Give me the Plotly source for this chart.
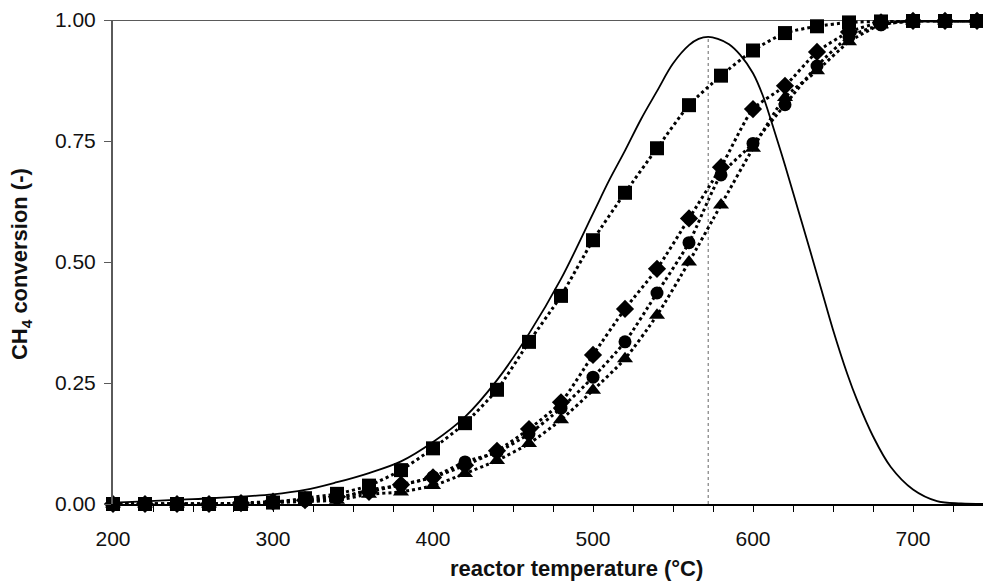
import plotly.graph_objects as go

temperature = [200, 220, 240, 260, 280, 300, 320, 340, 360, 380, 400, 420, 440, 460,
               480, 500, 520, 540, 560, 580, 600, 620, 640, 660, 680, 700, 720, 740]

conv_square = [0.0, 0.0, 0.0, 0.0, 0.0, 0.003, 0.012, 0.021, 0.038, 0.07, 0.115, 0.167, 0.236, 0.335,
               0.43, 0.545, 0.643, 0.735, 0.824, 0.885, 0.937, 0.973, 0.987, 0.995, 0.997, 0.998, 0.998, 0.998]
conv_diamond = [0.0, 0.0, 0.0, 0.0, 0.002, 0.005, 0.008, 0.015, 0.025, 0.04, 0.055, 0.08, 0.11, 0.155,
                0.21, 0.308, 0.403, 0.486, 0.59, 0.696, 0.816, 0.864, 0.934, 0.975, 0.995, 0.998, 0.998, 0.998]
conv_circle = [0.0, 0.0, 0.0, 0.0, 0.0, 0.004, 0.007, 0.012, 0.029, 0.039, 0.056, 0.087, 0.107, 0.145,
               0.198, 0.262, 0.335, 0.436, 0.54, 0.68, 0.745, 0.825, 0.905, 0.965, 0.99, 0.998, 0.998, 0.998]
conv_triangle = [0.0, 0.0, 0.0, 0.0, 0.0, 0.003, 0.005, 0.008, 0.02, 0.025, 0.038, 0.063, 0.09, 0.125,
                 0.174, 0.235, 0.30, 0.39, 0.50, 0.618, 0.735, 0.84, 0.895, 0.955, 0.99, 0.998, 0.998, 0.998]

bell_t = [200, 250, 300, 320, 340, 360, 380, 400, 420, 440, 460, 480, 500, 510, 520, 530, 540, 550,
          560, 566, 572, 578, 585, 592, 600, 606, 612, 620, 628, 636, 643, 650, 659, 665, 675, 686,
          700, 715, 730, 745]
bell_v = [0.003, 0.01, 0.02, 0.029, 0.045, 0.064, 0.088, 0.128, 0.18, 0.256, 0.352, 0.465, 0.60, 0.668,
          0.73, 0.795, 0.853, 0.91, 0.948, 0.961, 0.965, 0.961, 0.95, 0.928, 0.89, 0.845, 0.785, 0.70,
          0.61, 0.52, 0.44, 0.36, 0.268, 0.215, 0.14, 0.077, 0.03, 0.006, 0.001, 0.0]

x_ticks = [200, 300, 400, 500, 600, 700]
y_ticks = [0.0, 0.25, 0.5, 0.75, 1.0]

x_title = "reactor temperature (°C)"
y_title = "CH<sub>4</sub> conversion (-)"

fig = go.Figure()

peak_i = bell_v.index(max(bell_v))
fig.add_trace(go.Scatter(x=[bell_t[peak_i], bell_t[peak_i]], y=[0, bell_v[peak_i]], mode="lines",
                         line=dict(color="#666666", width=1, dash="dot"), showlegend=False))
fig.add_trace(go.Scatter(x=bell_t, y=bell_v, mode="lines",
                         line=dict(color="black", width=1.8, shape="spline", smoothing=1.0),
                         showlegend=False, cliponaxis=False))

series = [
    (conv_triangle, "triangle-up", 14),
    (conv_circle, "circle", 13),
    (conv_diamond, "diamond", 14),
    (conv_square, "square", 14),
]
for vals, sym, size in series:
    fig.add_trace(go.Scatter(x=temperature, y=vals, mode="lines+markers",
                             line=dict(color="black", width=3, dash="dot", shape="spline", smoothing=0.6),
                             marker=dict(symbol=sym, size=size, color="black"),
                             showlegend=False, cliponaxis=False))

# top frame line at 1.00
fig.add_shape(type="line", xref="paper", yref="y", x0=0, x1=1, y0=1, y1=1,
              line=dict(color="#5a5a5a", width=2), layer="below")

FAM = "Liberation Sans, Arial, Helvetica, sans-serif"
tick_font = dict(family=FAM, size=21, color="#111111")
title_font = dict(family=FAM, size=22, color="#111111", weight="bold")

fig.add_annotation(text=x_title, xref="paper", yref="paper", x=0.533, y=-0.134,
                   xanchor="center", yanchor="middle", showarrow=False, font=title_font)
fig.add_annotation(text=y_title, xref="paper", yref="paper", x=-0.105, y=0.495,
                   xanchor="center", yanchor="middle", textangle=-90, showarrow=False, font=title_font)

fig.update_layout(
    width=983, height=585,
    margin=dict(l=113, r=0, t=20, b=81),
    paper_bgcolor="white", plot_bgcolor="white",
    font=tick_font,
    xaxis=dict(range=[200, 743.75], tickvals=x_ticks, showgrid=False, zeroline=False,
               showline=True, linecolor="black", linewidth=1.5,
               ticks="outside", ticklen=6, tickcolor="black", tickwidth=1,
               minor=dict(dtick=25, ticks="outside", ticklen=6, tickcolor="black", tickwidth=1),
               tickfont=tick_font, ticklabelstandoff=9),
    yaxis=dict(range=[0, 1], tickvals=y_ticks, tickformat=".2f", showgrid=False, zeroline=False,
               showline=True, linecolor="#5a5a5a", linewidth=2,
               ticks="outside", ticklen=7, tickcolor="#5a5a5a", tickwidth=1,
               tickfont=tick_font, ticklabelstandoff=4),
)

fig.write_html("out.html")
